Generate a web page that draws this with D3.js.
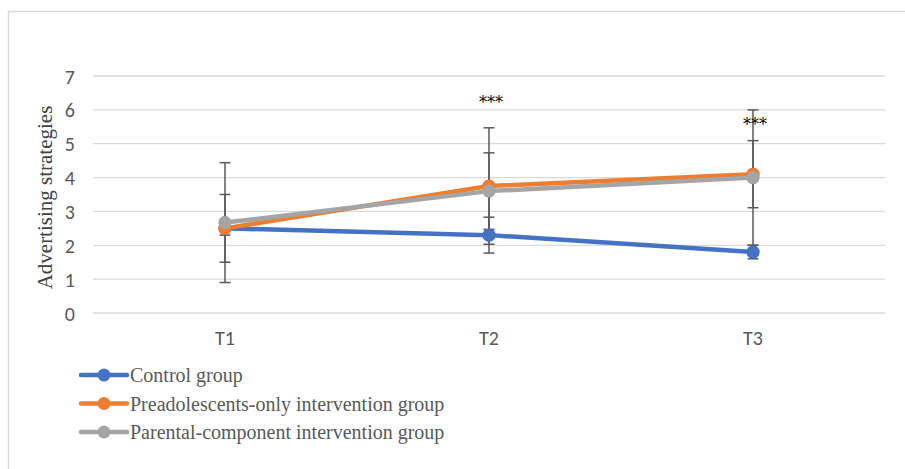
<!DOCTYPE html>
<html><head><meta charset="utf-8">
<script src="https://cdn.jsdelivr.net/npm/d3@7"></script>
<style>body{margin:0;background:#fff}</style>
</head><body>
<svg id="chart" width="905" height="469"></svg>
<script>
const categories = ["T1", "T2", "T3"];
const yTicks = [0, 1, 2, 3, 4, 5, 6, 7];
const seriesNames = ["Control group", "Preadolescents-only intervention group", "Parental-component intervention group"];
const controlValues = [2.5, 2.3, 1.8];
const preadolValues = [2.5, 3.75, 4.1];
const parentalValues = [2.67, 3.6, 4.0];
const controlErrors = [0.2, 0.53, 0.2];
const preadolErrors = [1.0, 1.72, 0.99];
const parentalErrors = [1.77, 1.13, 2.0];
const significance = ["", "***", "***"];
const colors = ["#4472c4", "#ed7d31", "#a5a5a5"];

const series = [
  {name: seriesNames[0], values: controlValues, errors: controlErrors, color: colors[0]},
  {name: seriesNames[1], values: preadolValues, errors: preadolErrors, color: colors[1]},
  {name: seriesNames[2], values: parentalValues, errors: parentalErrors, color: colors[2]}
];

const svg = d3.select("#chart");
svg.append("path").attr("d", "M8.5,469 V11.5 H905").attr("fill", "none").attr("stroke", "#d9d9d9").attr("stroke-width", 1.5);

const x = d3.scaleBand().domain(categories).range([93, 885]);
const y = d3.scaleLinear().domain([0, 7]).range([313, 76]);

svg.append("g").selectAll("line").data(yTicks).join("line")
  .attr("x1", 93).attr("x2", 885)
  .attr("y1", d => y(d)).attr("y2", d => y(d))
  .attr("stroke", "#d9d9d9").attr("stroke-width", 1.3);

const sansFont = "Carlito, 'Open Sans', 'Liberation Sans', sans-serif";
const yAxis = svg.append("g").attr("transform", "translate(75,0)")
  .call(d3.axisLeft(y).tickValues(yTicks).tickFormat(d3.format("d")).tickSize(0).tickPadding(0));
yAxis.select(".domain").remove();
yAxis.attr("font-size", null).attr("font-family", null);
yAxis.selectAll("text").style("font-family", sansFont)
  .style("font-size", "20px").attr("fill", "#595959").attr("dy", "0.35em");

const xAxis = svg.append("g").attr("transform", "translate(0,331)")
  .call(d3.axisBottom(x).tickSize(0).tickPadding(0));
xAxis.select(".domain").remove();
xAxis.attr("font-size", null).attr("font-family", null);
xAxis.selectAll("text").style("font-family", sansFont)
  .style("font-size", "20px").attr("fill", "#595959").attr("dy", "0.71em");

svg.append("text").attr("transform", `translate(52,${y(3.5) + 3}) rotate(-90)`)
  .attr("text-anchor", "middle").attr("font-family", "'Liberation Serif', 'Times New Roman', serif")
  .attr("font-size", 21).attr("fill", "#404040").text("Advertising strategies");

const cx = c => x(c) + x.bandwidth() / 2;
const line = d3.line().x((d, i) => cx(categories[i])).y(d => y(d));

series.forEach(s => {
  const g = svg.append("g");
  g.append("path").datum(s.values).attr("d", line).attr("fill", "none")
    .attr("stroke", s.color).attr("stroke-width", 4.5).attr("stroke-linejoin", "round");
  g.selectAll("circle").data(s.values).join("circle")
    .attr("cx", (d, i) => cx(categories[i])).attr("cy", d => y(d)).attr("r", 6.5)
    .attr("fill", s.color);
  const eg = g.append("g").attr("stroke", "#595959").attr("stroke-width", 1.5);
  s.values.forEach((v, i) => {
    const px = cx(categories[i]);
    const e = s.errors[i];
    eg.append("line").attr("x1", px).attr("x2", px).attr("y1", y(v + e)).attr("y2", y(v - e));
    [v + e, v - e].forEach(t => eg.append("line").attr("x1", px - 5.5).attr("x2", px + 5.5).attr("y1", y(t)).attr("y2", y(t)));
  });
});
series.forEach(s => {
  svg.append("g").selectAll("circle").data(s.values).join("circle")
    .attr("cx", (d, i) => cx(categories[i])).attr("cy", d => y(d)).attr("r", 6.5)
    .attr("fill", s.color);
});

svg.append("g").selectAll("text").data(significance).join("text")
  .attr("x", (d, i) => cx(categories[i]) + 2)
  .attr("y", (d, i) => i === 1 ? 108 : 130)
  .attr("text-anchor", "middle").attr("font-family", "'DejaVu Serif', 'Liberation Serif', serif")
  .attr("font-size", 16).attr("fill", "#000").text(d => d);

const lg = svg.append("g");
series.forEach((s, i) => {
  const ly = 375 + i * 28.5;
  lg.append("line").attr("x1", 81).attr("x2", 127).attr("y1", ly).attr("y2", ly)
    .attr("stroke", s.color).attr("stroke-width", 4.5).attr("stroke-linecap", "round");
  lg.append("circle").attr("cx", 104).attr("cy", ly).attr("r", 6.5).attr("fill", s.color);
  lg.append("text").attr("x", 130).attr("y", ly).attr("dy", "0.35em")
    .attr("font-family", "'Liberation Serif', 'Times New Roman', serif")
    .attr("font-size", 20).attr("fill", "#595959").text(s.name);
});
</script>
</body></html>
